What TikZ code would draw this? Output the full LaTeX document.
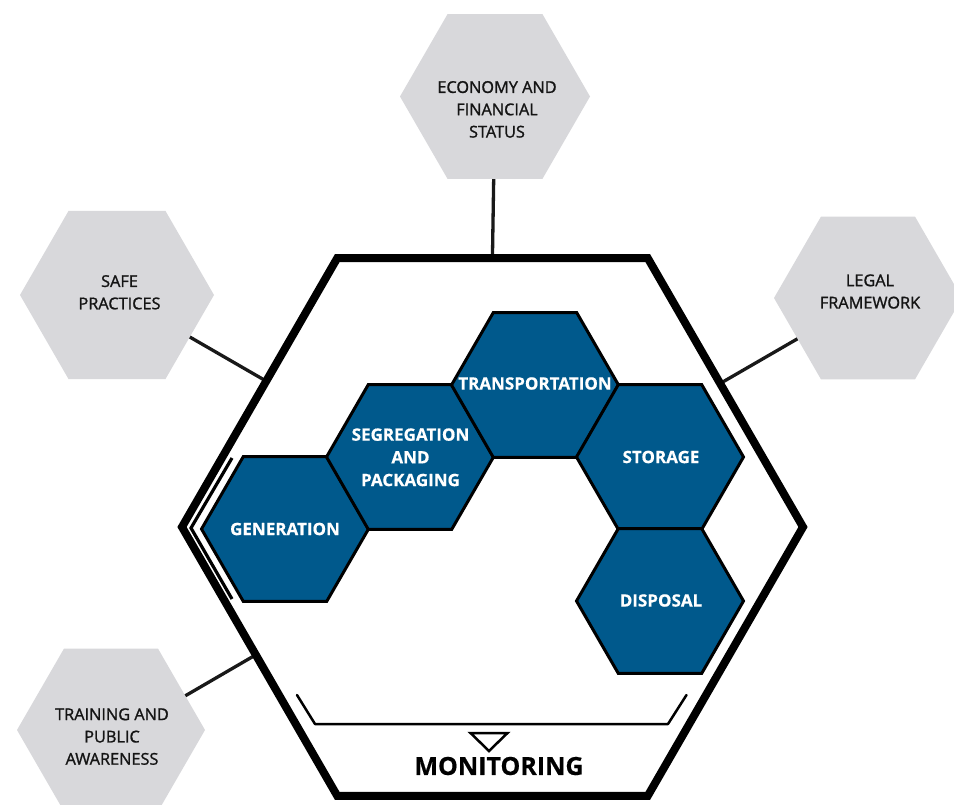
\documentclass[tikz,border=0pt]{standalone}
\usepackage{fontspec}
\setmainfont{Open Sans}
\newfontfamily\grayfont[FakeBold=1.3]{Open Sans}
\newfontfamily\bluefont[FakeBold=0.5]{Open Sans Bold}
\usetikzlibrary{shapes.geometric}
\pgfdeclarelayer{bg}
\pgfsetlayers{bg,main}
\definecolor{hexblue}{RGB}{0,89,140}
\definecolor{hexgray}{RGB}{216,216,219}
\definecolor{txtdark}{RGB}{20,20,20}
\tikzset{
  bluehex/.style={regular polygon, regular polygon sides=6, minimum size=167pt, inner sep=0pt, fill=hexblue, draw=black, line width=3pt},
  grayhex/.style={regular polygon, regular polygon sides=6, inner sep=0pt, fill=hexgray, draw=none},
  bighex/.style={regular polygon, regular polygon sides=6, minimum size=621pt, inner sep=0pt, draw=black, line width=8pt},
  bluetxt/.style={text=white, font=\bluefont\fontsize{17}{22.7}\selectfont, align=center, inner sep=0pt},
  graytxt/.style={text=txtdark, font=\grayfont\fontsize{16.3}{22.3}\selectfont, align=center, inner sep=0pt},
  conn/.style={line width=3.3pt, draw=black!90},
  thinline/.style={line width=2.5pt, line cap=round, line join=round},
}
\begin{document}
\begin{tikzpicture}[x=1pt,y=-1pt]
\useasboundingbox (0,0) rectangle (954,805);
% outer gray hexagons
\node[grayhex, minimum size=190pt] (econ) at (495,96.5) {};
\node[graytxt] (econT) at (497,109.4) {ECONOMY AND\\FINANCIAL\\STATUS};
\node[grayhex, minimum size=194pt] (safe) at (117,295) {};
\node[graytxt] (safeT) at (119.5,292.3) {SAFE\\PRACTICES};
\node[grayhex, minimum size=188pt] (legal) at (868,298) {};
\node[graytxt] (legalT) at (870,291.5) {LEGAL\\FRAMEWORK};
\node[grayhex, minimum size=188pt] (train) at (111,730) {};
\node[graytxt] (trainT) at (112,736.6) {TRAINING AND\\PUBLIC\\AWARENESS};
% big hexagon
\node[bighex] (big) at (492.5,527) {};
\draw[line width=3.2pt] (232,458) -- (191,528) -- (232,599);
% blue process hexagons
\node[bluehex] (gen) at (285,529) {};
\node[bluehex] (seg) at (410,457) {};
\node[bluehex] (trans) at (535,385) {};
\node[bluehex] (stor) at (660,457) {};
\node[bluehex] (disp) at (660,601) {};
\node[bluetxt] (genT) at (285,529) {GENERATION};
\node[bluetxt] (segT) at (410.5,457.3) {SEGREGATION\\AND\\PACKAGING};
\node[bluetxt] (transT) at (535,383.5) {TRANSPORTATION};
\node[bluetxt] (storT) at (661,457) {STORAGE};
\node[bluetxt] (dispT) at (661,600.5) {DISPOSAL};
% monitoring
\draw[thinline] (297,695) -- (315,724) -- (668,724) -- (686.5,695);
\draw[line width=2.5pt, fill=white] (470.5,733) -- (507.5,733) -- (489,751) -- cycle;
\node[font=\bluefont\fontsize{25}{30}\selectfont, inner sep=0pt] (mon) at (499,766) {MONITORING};
% connectors
\coordinate (sB) at (266,381);
\coordinate (lB) at (721,383);
\coordinate (tA) at (170,704.7);
\coordinate (tB) at (255.5,655);
\begin{pgfonlayer}{bg}
\fill[white] (0,0) rectangle (954,805);
\draw[conn] (econ.center) -- (big.north);
\draw[conn] (safe.center) -- (sB);
\draw[conn] (legal.center) -- (lB);
\draw[conn] (tA) -- (tB);
\end{pgfonlayer}
\end{tikzpicture}
\end{document}
